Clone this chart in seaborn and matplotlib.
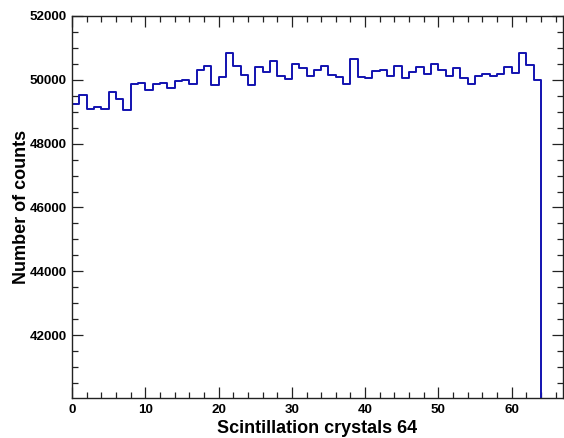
import numpy as np
import pandas as pd
import matplotlib
matplotlib.use("Agg")
import matplotlib.pyplot as plt
from matplotlib.ticker import MultipleLocator
import seaborn as sns

# Counts per scintillation crystal (64 crystals, bins 0..63)
crystal = list(range(64))
counts = [
    49240, 49530, 49100, 49135, 49100, 49615, 49395, 49060,
    49855, 49906, 49677, 49875, 49906, 49750, 49948, 50000,
    49855, 50323, 50427, 49833, 50083, 50833, 50437, 50156,
    49844, 50406, 50230, 50583, 50125, 50020, 50510, 50365,
    50135, 50313, 50437, 50146, 50104, 49865, 50656, 50094,
    50062, 50292, 50323, 50135, 50437, 50042, 50250, 50406,
    50177, 50510, 50302, 50125, 50385, 50062, 49865, 50115,
    50198, 50135, 50177, 50417, 50208, 50854, 50479, 50000,
]
x_ticks = [0, 10, 20, 30, 40, 50, 60]
y_ticks = [42000, 44000, 46000, 48000, 50000, 52000]

df = pd.DataFrame({"crystal": np.array(crystal) + 0.5, "counts": counts})

sns.set_style("ticks")
plt.rcParams["font.family"] = ["Liberation Sans", "DejaVu Sans"]

fig = plt.figure(figsize=(5.64, 4.38), dpi=100)
ax = fig.add_axes([72 / 564, 40 / 438, (563 - 72) / 564, (398 - 16) / 438])

line_color = "#1212b0"
sns.histplot(
    data=df, x="crystal", weights="counts",
    binwidth=1, binrange=(0, len(crystal)), element="step", fill=True,
    color=line_color, alpha=1, linewidth=1.4, ax=ax,
)
for coll in ax.collections:
    coll.set_facecolor("none")
    coll.set_edgecolor(line_color)
    coll.set_linewidth(1.4)

ax.set_xlim(0, 67)
ax.set_ylim(40030, 52000)
ax.set_xticks(x_ticks)
ax.set_yticks(y_ticks)
ax.xaxis.set_minor_locator(MultipleLocator(2))
ax.yaxis.set_minor_locator(MultipleLocator(500))
ax.tick_params(which="both", direction="in", top=True, right=True,
               colors="#222222", labelcolor="black", width=0.9)
ax.tick_params(which="major", length=8, labelsize=9.6, pad=4)
ax.tick_params(which="minor", length=4)
for lab in ax.get_xticklabels() + ax.get_yticklabels():
    lab.set_fontweight("bold")
for sp in ax.spines.values():
    sp.set_linewidth(1.0)
    sp.set_color("#222222")

ax.set_xlabel("Scintillation crystals 64", fontsize=13, fontweight="bold",
              color="black", labelpad=3)
ax.set_ylabel("Number of counts", fontsize=13, fontweight="bold",
              color="black")
ax.yaxis.set_label_coords(-0.086, 0.5)

fig.savefig("out.png", dpi=100)
